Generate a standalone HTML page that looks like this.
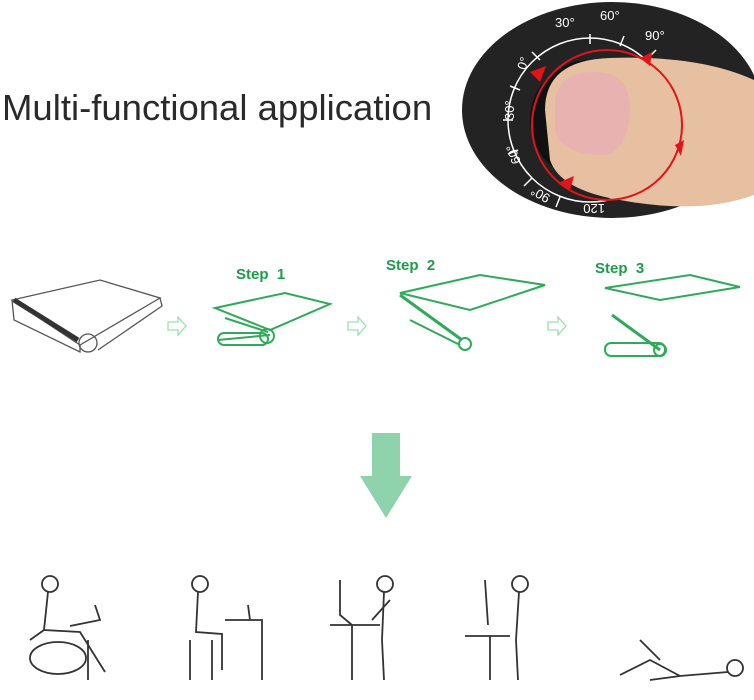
<!DOCTYPE html>
<html><head><meta charset="utf-8"><style>
html,body{margin:0;padding:0;background:#fff;width:754px;height:700px;overflow:hidden}
svg{display:block}
</style></head><body>
<svg width="754" height="700" viewBox="0 0 754 700" xmlns="http://www.w3.org/2000/svg">
<text x="2" y="120" font-family="Liberation Sans, sans-serif" font-size="36.5" fill="#2a2a2a">Multi-functional application</text>
<!-- dial -->
<ellipse cx="612" cy="110" rx="150" ry="108" fill="#232323"/>
<circle cx="590" cy="120" r="82" fill="none" stroke="#fff" stroke-width="1.5"/>
<g stroke="#fff" stroke-width="1.5">
<line x1="540" y1="60" x2="532" y2="52"/><line x1="520" y1="90" x2="510" y2="86"/><line x1="513" y1="120" x2="503" y2="120"/>
<line x1="518" y1="150" x2="508" y2="154"/><line x1="532" y1="178" x2="524" y2="186"/><line x1="560" y1="197" x2="556" y2="207"/>
<line x1="590" y1="44" x2="590" y2="34"/><line x1="620" y1="46" x2="624" y2="36"/><line x1="648" y1="58" x2="656" y2="50"/>
</g>
<g font-family="Liberation Sans, sans-serif" font-size="13" fill="#fff">
<text x="555" y="27">30°</text><text x="600" y="20">60°</text><text x="645" y="40">90°</text>
<text x="515" y="68" transform="rotate(-70 522 62)">0°</text>
<text x="500" y="118" transform="rotate(-90 508 112)">30°</text>
<text x="505" y="165" transform="rotate(-110 512 158)">60°</text>
<text x="530" y="200" transform="rotate(-150 540 195)">90°</text>
<text x="585" y="212" transform="rotate(180 595 208)">120</text>
</g>
<circle cx="590" cy="120" r="60" fill="#111"/>
<path d="M545 110 Q545 60 610 58 Q700 55 754 80 L754 195 Q700 215 620 200 Q560 190 550 160 Z" fill="#e6c0a0"/>
<path d="M555 100 Q560 70 600 72 Q630 75 630 110 Q628 150 605 155 Q560 155 555 130 Z" fill="#e8b2b0"/>
<circle cx="607" cy="125" r="75" fill="none" stroke="#e0141a" stroke-width="2"/>
<g fill="#e0141a">
<polygon points="530,72 546,66 540,82"/><polygon points="640,58 652,52 650,66"/>
<polygon points="675,145 684,140 681,156"/><polygon points="560,182 574,176 570,190"/>
</g>
<!-- steps -->
<g fill="none" stroke="#555" stroke-width="1.3">
<path d="M12 300 L80 345 L160 298 L100 280 Z"/>
<path d="M12 300 L14 320 L80 352 L80 345"/><path d="M160 298 L162 306 L98 350"/>
<circle cx="88" cy="343" r="9"/><path d="M14 300 L78 340" stroke="#333" stroke-width="5"/>
</g>
<g font-family="Liberation Sans, sans-serif" font-weight="bold" fill="#1d9c4a" font-size="15">
<text x="236" y="279">Step&#160;&#160;1</text><text x="386" y="270">Step&#160;&#160;2</text><text x="595" y="273">Step&#160;&#160;3</text>
</g>
<g fill="none" stroke="#2eaa5a" stroke-width="2">
<path d="M215 308 L285 293 L330 304 L270 330 Z"/><path d="M218 340 L270 335"/><rect x="218" y="333" width="50" height="12" rx="6"/>
<circle cx="267" cy="336" r="7"/><path d="M225 318 L268 332"/>
<path d="M400 293 L480 275 L545 285 L470 310 Z"/><path d="M410 320 L460 345"/><circle cx="465" cy="344" r="6"/><path d="M400 295 L462 340" stroke-width="3"/>
<path d="M605 288 L690 275 L740 287 L660 300 Z"/><path d="M612 315 L660 350" stroke-width="3"/><rect x="605" y="343" width="60" height="13" rx="6"/><circle cx="660" cy="350" r="6"/>
</g>
<g fill="none" stroke="#9ce0b0" stroke-width="1.3">
<path d="M168 322 h10 v-5 l8 9 l-8 9 v-5 h-10 z"/>
<path d="M348 322 h10 v-5 l8 9 l-8 9 v-5 h-10 z"/>
<path d="M548 322 h10 v-5 l8 9 l-8 9 v-5 h-10 z"/>
</g>
<!-- big arrow -->
<polygon points="372,433 400,433 400,476 412,476 386,518 360,476 372,476" fill="#8fd3ac"/>
<!-- figures -->
<g fill="none" stroke="#333" stroke-width="1.8">
<circle cx="50" cy="584" r="8"/><path d="M48 592 L44 630 L80 632 L105 672 M44 630 L30 640"/><ellipse cx="58" cy="658" rx="28" ry="16"/><path d="M70 626 L100 620 L95 605 M88 640 L88 680"/>
<circle cx="200" cy="584" r="8"/><path d="M198 592 L196 632 L222 634 L222 670 M190 640 L190 680 M212 640 L212 680 M225 620 L262 620 L262 680 M248 605 L250 620"/>
<circle cx="385" cy="584" r="8"/><path d="M384 592 L382 640 L384 680 M390 600 L372 620 M330 625 L380 625 M352 625 L352 680 M340 580 L340 615 L352 625"/>
<circle cx="520" cy="584" r="8"/><path d="M519 592 L516 640 L518 680 M465 636 L510 636 M490 636 L490 680 M485 580 L488 625"/>
<circle cx="735" cy="668" r="8"/><path d="M728 672 L680 676 L650 660 L620 675 M680 676 L650 680 M640 640 L660 660"/>
</g>
</svg>
</body></html>
